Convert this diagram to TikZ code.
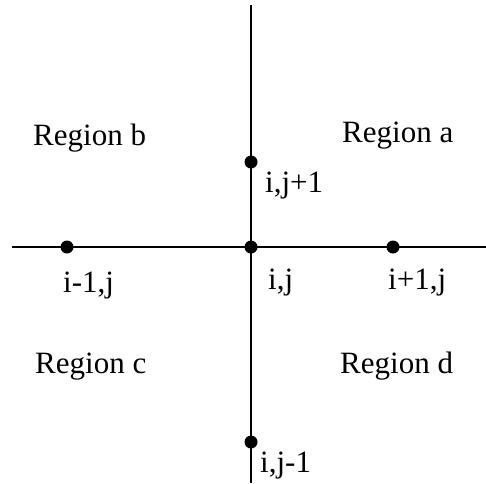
\documentclass[tikz,border=0pt]{standalone}
\usepackage{fontspec}
\setmainfont{Liberation Serif}
\usepackage{tikz}
\usetikzlibrary{positioning}

\tikzset{
  gridline/.style={line width=2.6pt, black},
  gridpt/.style={circle, fill=black, inner sep=0pt, minimum size=13pt},
  ptlabel/.style={anchor=base west, inner sep=0pt, font=\fontsize{31}{37}\selectfont},
}

\begin{document}
\begin{tikzpicture}[x=1pt, y=-1pt]
  \useasboundingbox (0,0) rectangle (486,483);

  % ── Line ends ─────────────────────────────────────────────────────────────
  \coordinate (top) at (251,5);
  \coordinate (bot) at (251,483);
  \coordinate (lft) at (12,247);
  \coordinate (rgt) at (486,247);

  % ── Grid lines ────────────────────────────────────────────────────────────
  \draw[gridline] (top) -- (bot);
  \draw[gridline] (lft) -- (rgt);

  % ── Grid points ───────────────────────────────────────────────────────────
  \node[gridpt] (ij)   at (251,247) {};
  \node[gridpt] (ijp)  at (251,162) {};
  \node[gridpt] (ijm)  at (251,442) {};
  \node[gridpt] (imj)  at (67,247)  {};
  \node[gridpt] (ipj)  at (393,247) {};

  % ── Point labels ──────────────────────────────────────────────────────────
  \node[ptlabel] (lab-ij)  at (268,289) {i,j};
  \node[ptlabel] (lab-ijp) at (265,192) {i,j+1};
  \node[ptlabel] (lab-ijm) at (260,472) {i,j-1};
  \node[ptlabel] (lab-imj) at (63,292)  {i-1,j};
  \node[ptlabel] (lab-ipj) at (388,289) {i+1,j};

  % ── Region labels ─────────────────────────────────────────────────────────
  \node[ptlabel] (reg-a) at (342,142) {Region a};
  \node[ptlabel] (reg-b) at (33,145)  {Region b};
  \node[ptlabel] (reg-c) at (35,373)  {Region c};
  \node[ptlabel] (reg-d) at (340,373) {Region d};
\end{tikzpicture}
\end{document}
